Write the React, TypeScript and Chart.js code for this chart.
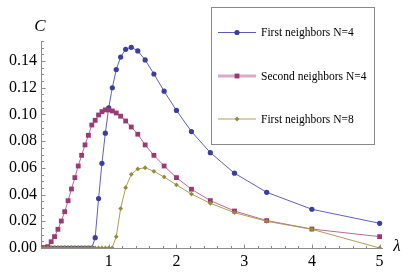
import React, { useEffect, useRef } from 'react';
import { Chart, registerables } from 'chart.js';

Chart.register(...registerables);

// First neighbors N=4
const blueLambda = [0, 0.05, 0.1, 0.15, 0.2, 0.25, 0.3, 0.35, 0.4, 0.45, 0.5, 0.55, 0.6, 0.65, 0.7, 0.75,
  0.8, 0.85, 0.9, 0.95, 1.0, 1.053, 1.111, 1.176, 1.25, 1.333, 1.429, 1.538, 1.667, 1.818, 2.0, 2.222, 2.5, 2.857, 3.333, 4.0, 5.0];
const blueC = [0, 0, 0, 0, 0, 0, 0, 0, 0, 0, 0, 0, 0, 0, 0, 0,
  0.0077, 0.037, 0.0634, 0.086, 0.105, 0.12, 0.1336, 0.143, 0.1488, 0.1503, 0.1476, 0.1408, 0.1303, 0.1174, 0.103, 0.0872, 0.0714, 0.056, 0.0417, 0.029, 0.0185];

// Second neighbors N=4
const pinkLambda = [0, 0.05, 0.1, 0.15, 0.2, 0.25, 0.3, 0.35, 0.4, 0.45, 0.5, 0.55, 0.6, 0.65, 0.7,
  0.75, 0.8, 0.85, 0.9, 0.95, 1.0, 1.053, 1.111, 1.176, 1.25, 1.333, 1.429, 1.538, 1.667, 1.818, 2.0, 2.222, 2.5, 2.857, 3.333, 4.0, 5.0];
const pinkC = [0, 0.0003, 0.001, 0.0047, 0.0085, 0.014, 0.0202, 0.0272, 0.0354, 0.0442, 0.0527, 0.0614, 0.0694, 0.0772, 0.0844,
  0.0921, 0.0956, 0.0996, 0.1021, 0.1034, 0.1034, 0.1026, 0.1011, 0.0987, 0.0951, 0.0906, 0.0852, 0.0772, 0.0694, 0.0614, 0.0527, 0.044, 0.0355, 0.0277, 0.0205, 0.0142, 0.0085];

// First neighbors N=8
const oliveLambda = [0, 0.05, 0.1, 0.15, 0.2, 0.25, 0.3, 0.35, 0.4, 0.45, 0.5, 0.55, 0.6, 0.65, 0.7, 0.75, 0.8, 0.85, 0.9, 0.95, 1.0, 1.05,
  1.111, 1.176, 1.25, 1.333, 1.429, 1.538, 1.667, 1.818, 2.0, 2.222, 2.5, 2.857, 3.333, 4.0, 5.0];
const oliveC = [0, 0, 0, 0, 0, 0, 0, 0, 0, 0, 0, 0, 0, 0, 0, 0, 0, 0, 0, 0, 0, 0,
  0.0085, 0.0295, 0.0452, 0.0552, 0.0592, 0.0601, 0.0574, 0.0532, 0.0472, 0.0404, 0.0335, 0.0265, 0.02, 0.014, 0.0];

const seriesNames = ['First neighbors N=4', 'Second neighbors N=4', 'First neighbors N=8'];
const xAxisTitle = 'λ';
const yAxisTitle = 'C';

const SERIF = '"Liberation Serif", "DejaVu Serif", serif';

function toPoints(xs: number[], ys: number[]) {
  return xs.map((x, i) => ({ x, y: ys[i] }));
}

const styles = [
  { marker: '#3d3d9c', line: 'rgba(80,80,180,0.9)', legendLine: '#5a5ab4', legendWidth: 1, shape: 'circle', radius: 2.6 },
  { marker: '#993a73', line: 'rgba(176,90,140,0.9)', legendLine: '#dba9c9', legendWidth: 3, shape: 'rect', radius: 3.4 },
  { marker: '#948c38', line: 'rgba(165,155,80,0.95)', legendLine: '#aba25c', legendWidth: 1, shape: 'rectRot', radius: 2.4 },
];

function drawMarker(ctx: CanvasRenderingContext2D, shape: string, x: number, y: number, r: number) {
  ctx.beginPath();
  if (shape === 'circle') {
    ctx.arc(x, y, r, 0, Math.PI * 2);
  } else if (shape === 'rect') {
    const s = r * Math.SQRT1_2;
    ctx.rect(x - s, y - s, 2 * s, 2 * s);
  } else {
    ctx.moveTo(x, y - r);
    ctx.lineTo(x + r, y);
    ctx.lineTo(x, y + r);
    ctx.lineTo(x - r, y);
    ctx.closePath();
  }
  ctx.fill();
}

const axesPlugin = {
  id: 'mmaAxes',
  beforeDatasetsDraw(chart: any) {
    const { ctx, chartArea, scales } = chart;
    const xs = scales.x;
    const ys = scales.y;
    const x0 = Math.round(xs.getPixelForValue(0)) + 0.5;
    const y0 = Math.round(ys.getPixelForValue(0)) + 0.5;
    ctx.save();
    ctx.strokeStyle = '#8c8c8c';
    ctx.lineWidth = 1;
    ctx.beginPath();
    ctx.moveTo(chartArea.left, y0);
    ctx.lineTo(chartArea.right, y0);
    ctx.moveTo(x0, chartArea.top);
    ctx.lineTo(x0, chartArea.bottom);
    // x ticks: major every 1, minor every 0.2
    for (let k = 1; k <= Math.floor(xs.max / 0.2 + 1e-6); k++) {
      const v = k * 0.2;
      const p = Math.round(xs.getPixelForValue(v)) + 0.5;
      const major = Math.abs(v - Math.round(v)) < 1e-6;
      ctx.moveTo(p, y0);
      ctx.lineTo(p, y0 - (major ? 4 : 2.5));
    }
    // y ticks: major every 0.02, minor every 0.005
    for (let k = 1; k <= Math.floor(ys.max / 0.005 + 1e-6); k++) {
      const v = k * 0.005;
      const p = Math.round(ys.getPixelForValue(v)) + 0.5;
      const major = k % 4 === 0;
      ctx.moveTo(x0, p);
      ctx.lineTo(x0 + (major ? 4 : 2.5), p);
    }
    ctx.stroke();
    ctx.restore();
  },
  afterDraw(chart: any) {
    const { ctx } = chart;
    ctx.save();
    // axis titles
    ctx.fillStyle = '#000';
    ctx.font = `italic 17px ${SERIF}`;
    ctx.textAlign = 'center';
    ctx.textBaseline = 'middle';
    ctx.fillText(yAxisTitle, 40, 27);
    ctx.fillText(xAxisTitle, 397, 247);

    // legend
    ctx.strokeStyle = '#8a8a8a';
    ctx.lineWidth = 1;
    ctx.strokeRect(211.5, 7.5, 163, 137);
    const rowsY = [32.5, 76, 119];
    ctx.font = `11.5px ${SERIF}`;
    ctx.textAlign = 'left';
    chart.data.datasets.forEach((ds: any, i: number) => {
      const st = styles[i];
      const yy = rowsY[i];
      ctx.strokeStyle = st.legendLine;
      ctx.lineWidth = st.legendWidth;
      ctx.beginPath();
      ctx.moveTo(218, yy);
      ctx.lineTo(256, yy);
      ctx.stroke();
      ctx.fillStyle = st.marker;
      drawMarker(ctx, st.shape, 237, yy, st.radius);
      ctx.fillStyle = '#000';
      ctx.fillText(ds.label, 261, yy + 0.5);
    });
    ctx.restore();
  },
};

export default function App() {
  const ref = useRef<HTMLCanvasElement>(null);
  useEffect(() => {
    document.body.style.margin = '0';
    const canvas = ref.current;
    if (!canvas) return;
    const series = [toPoints(blueLambda, blueC), toPoints(pinkLambda, pinkC), toPoints(oliveLambda, oliveC)];
    const chart = new Chart(canvas, {
      type: 'line',
      data: {
        datasets: series.map((pts, i) => ({
          label: seriesNames[i],
          data: pts,
          borderColor: styles[i].line,
          borderWidth: 1,
          backgroundColor: styles[i].marker,
          pointBackgroundColor: styles[i].marker,
          pointBorderWidth: 0,
          pointRadius: styles[i].radius,
          pointStyle: styles[i].shape,
          tension: 0,
          fill: false,
          order: 2 - i,
        })),
      },
      options: {
        animation: false,
        responsive: false,
        maintainAspectRatio: false,
        layout: { padding: { left: 0, top: 41, right: 32, bottom: 0 } },
        plugins: { legend: { display: false }, tooltip: { enabled: false } },
        scales: {
          x: {
            type: 'linear',
            min: 0,
            max: 5.05,
            grid: { display: false, drawTicks: false },
            border: { display: false },
            afterFit: (s: any) => { s.height = 30; },
            ticks: {
              stepSize: 1,
              includeBounds: false,
              padding: 4,
              color: '#000',
              font: { family: SERIF, size: 16 },
              maxRotation: 0,
              callback: (v: any) => (v === 0 ? '' : String(v)),
            },
          },
          y: {
            type: 'linear',
            min: 0,
            max: 0.155,
            grid: { display: false, drawTicks: false },
            border: { display: false },
            afterFit: (s: any) => { s.width = 41; },
            ticks: {
              stepSize: 0.02,
              includeBounds: false,
              padding: 4,
              color: '#000',
              font: { family: SERIF, size: 16 },
              callback: (v: any) => Number(v).toFixed(2),
            },
          },
        },
      },
      plugins: [axesPlugin],
    });
    return () => chart.destroy();
  }, []);
  return <canvas ref={ref} width={415} height={278} style={{ display: 'block' }} />;
}
